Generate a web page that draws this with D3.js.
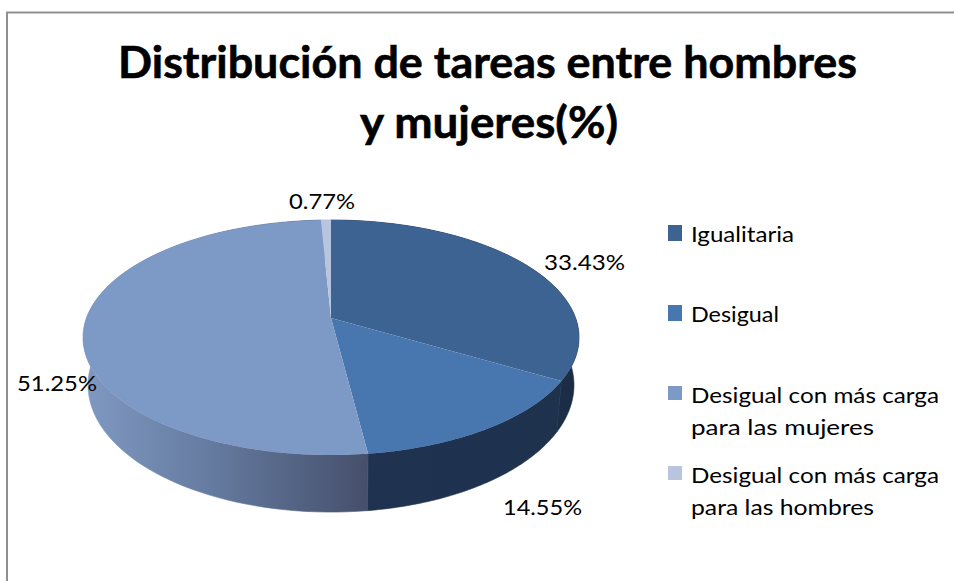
<!DOCTYPE html>
<html><head><meta charset="utf-8">
<script src="https://cdn.jsdelivr.net/npm/d3@7/dist/d3.min.js"></script>
<style>html,body{margin:0;padding:0;background:#fff}svg{display:block}text{font-family:Lato,"Open Sans",sans-serif;fill:#000}</style>
</head><body><script>
const categories = ["Igualitaria","Desigual","Desigual con más carga para las mujeres","Desigual con más carga para las hombres"];
const values = [33.43,14.55,51.25,0.77];
const valueLabels = ["33.43%","14.55%","51.25%","0.77%"];
const colors = ["#3c6392","#4877b0","#7d99c6","#b7c5de"];
const titleLines = ["Distribución de tareas entre hombres","y mujeres(%)"];
const legendLines = [["Igualitaria"],["Desigual"],["Desigual con más carga","para las mujeres"],["Desigual con más carga","para las hombres"]];

const W=954,H=581;
const svg=d3.select("body").append("svg").attr("width",W).attr("height",H);
svg.append("path").attr("d",`M7,${H}V12.5H${W}`).attr("fill","none").attr("stroke","#8f8f8f").attr("stroke-width",2);

const fit=(sel,len)=>sel.attr("textLength",len).attr("lengthAdjust","spacingAndGlyphs");
const titleFmt=[{x:118,y:78,l:739},{x:360,y:138,l:258}];
titleLines.forEach((t,i)=>{
  svg.append("text").attr("x",titleFmt[i].x).attr("y",titleFmt[i].y).attr("font-size",44).attr("font-weight",700)
    .attr("stroke","#000").attr("stroke-width",0.6).text(t).call(fit,titleFmt[i].l);
});

// projected disc
const k=0.166;
const proj=(cy,a,b)=>th=>{const u=Math.sin(th),v=Math.cos(th),w=1+k*v;return [331+a*u/w,cy-b*v/w];};
const topP=proj(318,244.6,114.3), botP=proj(364,239.6,123.5);
const arcs=d3.pie().sort(null).value(d=>d).startAngle(0).endAngle(2*Math.PI)(values);
const samples=(a,b)=>d3.range(0,91).map(i=>a+(b-a)*i/90);
const line=d3.line();
const defs=svg.append("defs");
const wallGrads=[
  [["0","#1c2e47"],["1","#1a2b41"]],
  [["0","#1f3351"],["1","#1e314d"]],
  [["0","#8099c2"],["0.5","#62779b"],["1","#454f6b"]],
  [["0","#8099c2"],["1","#8099c2"]]
];
const gradX=[[560,580],[368,560],[83,368],[322,331]];
wallGrads.forEach((g,i)=>{
  const lg=defs.append("linearGradient").attr("id","w"+i).attr("gradientUnits","userSpaceOnUse")
    .attr("x1",gradX[i][0]).attr("x2",gradX[i][1]).attr("y1",0).attr("y2",0);
  g.forEach(s=>lg.append("stop").attr("offset",s[0]).attr("stop-color",s[1]));
});
svg.append("g").selectAll("path").data(arcs).join("path")
  .attr("d",d=>{const s=samples(d.startAngle,d.endAngle);return line(s.map(topP).concat(s.slice().reverse().map(botP)))+"Z";})
  .attr("fill",(d,i)=>`url(#w${i})`)
  .attr("stroke",(d,i)=>`url(#w${i})`).attr("stroke-width",0.6);
svg.append("g").selectAll("path").data(arcs).join("path")
  .attr("d",d=>line([[331,318]].concat(samples(d.startAngle,d.endAngle).map(topP)))+"Z")
  .attr("fill",(d,i)=>colors[i]);

const labelPos=[[544,270,81],[503,515,79],[17,391,80],[289,209,66]];
valueLabels.forEach((t,i)=>{
  svg.append("text").attr("x",labelPos[i][0]).attr("y",labelPos[i][1]).attr("font-size",22).text(t).call(fit,labelPos[i][2]);
});

const swatchY=[225,305,386,466], swatchH=[16,16,14,14];
const lineLen={"Igualitaria":103,"Desigual":88,"Desigual con más carga":248,"para las mujeres":183,"para las hombres":183};
const baseY=[242,322,403,483];
categories.forEach((c,i)=>{
  svg.append("rect").attr("x",668).attr("y",swatchY[i]).attr("width",14).attr("height",swatchH[i]).attr("fill",colors[i]);
  legendLines[i].forEach((t,j)=>{
    svg.append("text").attr("x",691).attr("y",baseY[i]+j*32).attr("font-size",22).text(t).call(fit,lineLen[t]);
  });
});
</script></body></html>
